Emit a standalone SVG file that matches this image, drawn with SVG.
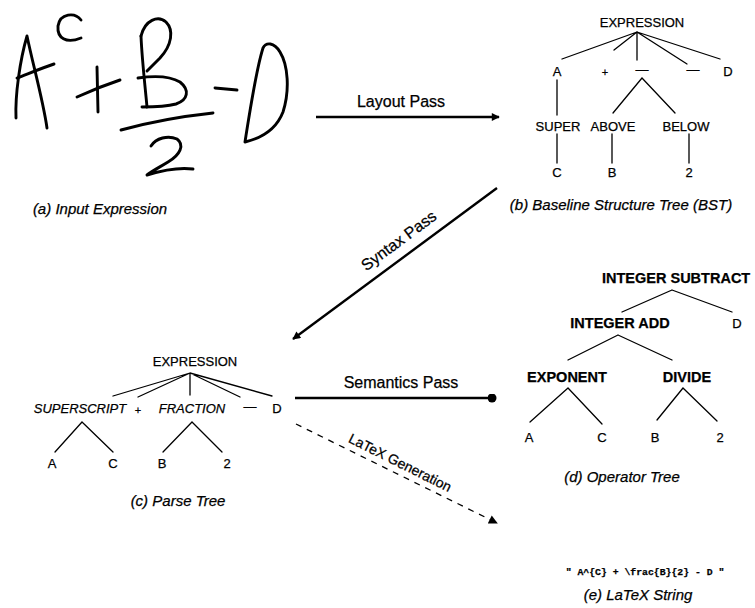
<svg xmlns="http://www.w3.org/2000/svg" width="755" height="608" viewBox="0 0 755 608">
<defs>
<style>
text{font-family:"Liberation Sans",Arial,Helvetica,sans-serif;fill:#000;stroke:#000;stroke-width:0.25}
.lbl{font-size:13px;text-anchor:middle}
.bold{font-size:14.5px;font-weight:bold;text-anchor:middle}
.cap{font-size:15px;font-style:italic;text-anchor:middle}
.pass{font-size:16px;text-anchor:middle}
.mono{font-family:"Liberation Mono","Courier New",monospace;font-size:9.8px;font-weight:bold;text-anchor:middle}
.edge{stroke:#000;stroke-width:1.3;fill:none;stroke-linecap:round}
.hand{stroke:#000;stroke-width:2.9;fill:none;stroke-linecap:round;stroke-linejoin:round}
.conn{stroke:#000;stroke-width:2.4;fill:none}
.dash{stroke:#000;stroke-width:1.3;fill:none;stroke-dasharray:6 6}
</style>
<marker id="arr" viewBox="0 0 10 10" refX="9" refY="5" markerWidth="10" markerHeight="8" markerUnits="userSpaceOnUse" orient="auto">
<path d="M0,0 L10,5 L0,10 Z" fill="#000"/>
</marker>
<marker id="arr2" viewBox="0 0 10 10" refX="9" refY="5" markerWidth="10" markerHeight="9" markerUnits="userSpaceOnUse" orient="auto">
<path d="M0,0 L10,5 L0,10 Z" fill="#000"/>
</marker>
<marker id="dot" viewBox="0 0 10 10" refX="5" refY="5" markerWidth="9" markerHeight="9" markerUnits="userSpaceOnUse" orient="auto">
<circle cx="5" cy="5" r="5" fill="#000"/>
</marker>
</defs>
<rect width="755" height="608" fill="#fff"/>

<g id="input-expression">
<path class="hand" d="M16,118 C15,95 20,60 27,36 C33,65 43,100 47,128"/>
<path class="hand" d="M17,78 C30,73 42,68 54,64"/>
<path class="hand" d="M81,20 C75,12 60,13 58,26 C57,38 66,44 81,38"/>
<path class="hand" d="M77,97 C90,91 105,85 120,80"/>
<path class="hand" d="M97,67 L98,112"/>
<path class="hand" d="M141,36 C142,60 145,85 147,107"/>
<path class="hand" d="M141,36 C145,20 158,15 166,22 C174,30 172,45 160,58 L147,71"/>
<path class="hand" d="M138,78 C152,76 170,76 180,82 C190,90 188,100 176,104 C165,107 152,107 142,107"/>
<path class="hand" d="M121,130 C150,122 185,116 213,113"/>
<path class="hand" d="M151,146 C156,138 168,135 177,139 C185,145 180,155 168,162 C160,167 152,171 147,175 C160,171 178,167 193,169"/>
<path class="hand" d="M215,88 L237,90"/>
<path class="hand" d="M245,142 C250,110 256,70 263,48 C266,42 274,42 280,52 C288,65 290,90 283,112 C276,130 262,138 245,142"/>
<text class="cap" x="100" y="214">(a) Input Expression</text>
</g>

<g id="bst">
<text class="lbl" x="642" y="27">EXPRESSION</text>
<path class="edge" d="M637,32 L562,59 M637,32 L614,50 M637,32 L637,60 M637,32 L687,64 M637,32 L720,59"/>
<text class="lbl" x="557" y="76">A</text>
<text class="lbl" x="605" y="76" style="font-size:11px">+</text>
<text class="lbl" x="642" y="74">—</text>
<text class="lbl" x="693" y="74">—</text>
<text class="lbl" x="728" y="76">D</text>
<path class="edge" d="M557,80 L557,115 M642,78 L613,113 M642,78 L675,113"/>
<text class="lbl" x="558" y="131">SUPER</text>
<text class="lbl" x="613" y="131">ABOVE</text>
<text class="lbl" x="686" y="131">BELOW</text>
<path class="edge" d="M557,134 L557,163 M612,134 L612,163 M689,134 L689,163"/>
<text class="lbl" x="557" y="177">C</text>
<text class="lbl" x="612" y="177">B</text>
<text class="lbl" x="689" y="177">2</text>
<text class="cap" x="621" y="210">(b) Baseline Structure Tree (BST)</text>
</g>

<g id="parse-tree">
<text class="lbl" x="195" y="366">EXPRESSION</text>
<path class="edge" d="M190,373 L113,396 M190,373 L138,397 M190,373 L190,395 M190,373 L240,397 M190,373 L272,396"/>
<text class="lbl" x="80" y="413" style="font-style:italic">SUPERSCRIPT</text>
<text class="lbl" x="138" y="414" style="font-size:11px">+</text>
<text class="lbl" x="192" y="413" style="font-style:italic">FRACTION</text>
<text class="lbl" x="250" y="411">—</text>
<text class="lbl" x="277" y="413">D</text>
<path class="edge" d="M82,422 L55,452 M82,422 L113,452 M192,422 L163,452 M192,422 L222,452"/>
<text class="lbl" x="52" y="468">A</text>
<text class="lbl" x="113" y="468">C</text>
<text class="lbl" x="162" y="468">B</text>
<text class="lbl" x="227" y="468">2</text>
<text class="cap" x="178" y="506">(c) Parse Tree</text>
</g>

<g id="operator-tree">
<text class="bold" x="602" y="283" style="text-anchor:start">INTEGER SUBTRACT</text>
<path class="edge" d="M672,290 L622,312 M672,290 L732,312"/>
<text class="bold" x="620" y="328">INTEGER ADD</text>
<text class="lbl" x="737" y="328">D</text>
<path class="edge" d="M618,335 L568,360 M618,335 L672,360"/>
<text class="bold" x="567" y="382">EXPONENT</text>
<text class="bold" x="687" y="382">DIVIDE</text>
<path class="edge" d="M568,388 L530,422 M568,388 L602,424 M683,388 L657,420 M683,388 L717,421"/>
<text class="lbl" x="529" y="442">A</text>
<text class="lbl" x="602" y="442">C</text>
<text class="lbl" x="655" y="442">B</text>
<text class="lbl" x="720" y="442">2</text>
<text class="cap" x="622" y="482">(d) Operator Tree</text>
</g>

<g id="latex-string">
<text class="mono" x="645" y="575">" A^{C} + \frac{B}{2} - D "</text>
<text class="cap" x="638" y="600">(e) LaTeX String</text>
</g>

<g id="connectors">
<path class="conn" d="M316,117 L499,117" marker-end="url(#arr)"/>
<text class="pass" x="401" y="107">Layout Pass</text>
<path class="conn" d="M497,188 L293,339" marker-end="url(#arr)"/>
<text class="pass" x="0" y="0" transform="translate(402,245) rotate(-36.5)">Syntax Pass</text>
<path class="conn" d="M295,398 L492,398" marker-end="url(#dot)"/>
<text class="pass" x="401" y="388">Semantics Pass</text>
<path class="dash" d="M296,424 L497,523" marker-end="url(#arr2)"/>
<text class="pass" x="0" y="0" style="font-size:14px" transform="translate(398,467) rotate(26.5)">LaTeX Generation</text>
</g>
</svg>
